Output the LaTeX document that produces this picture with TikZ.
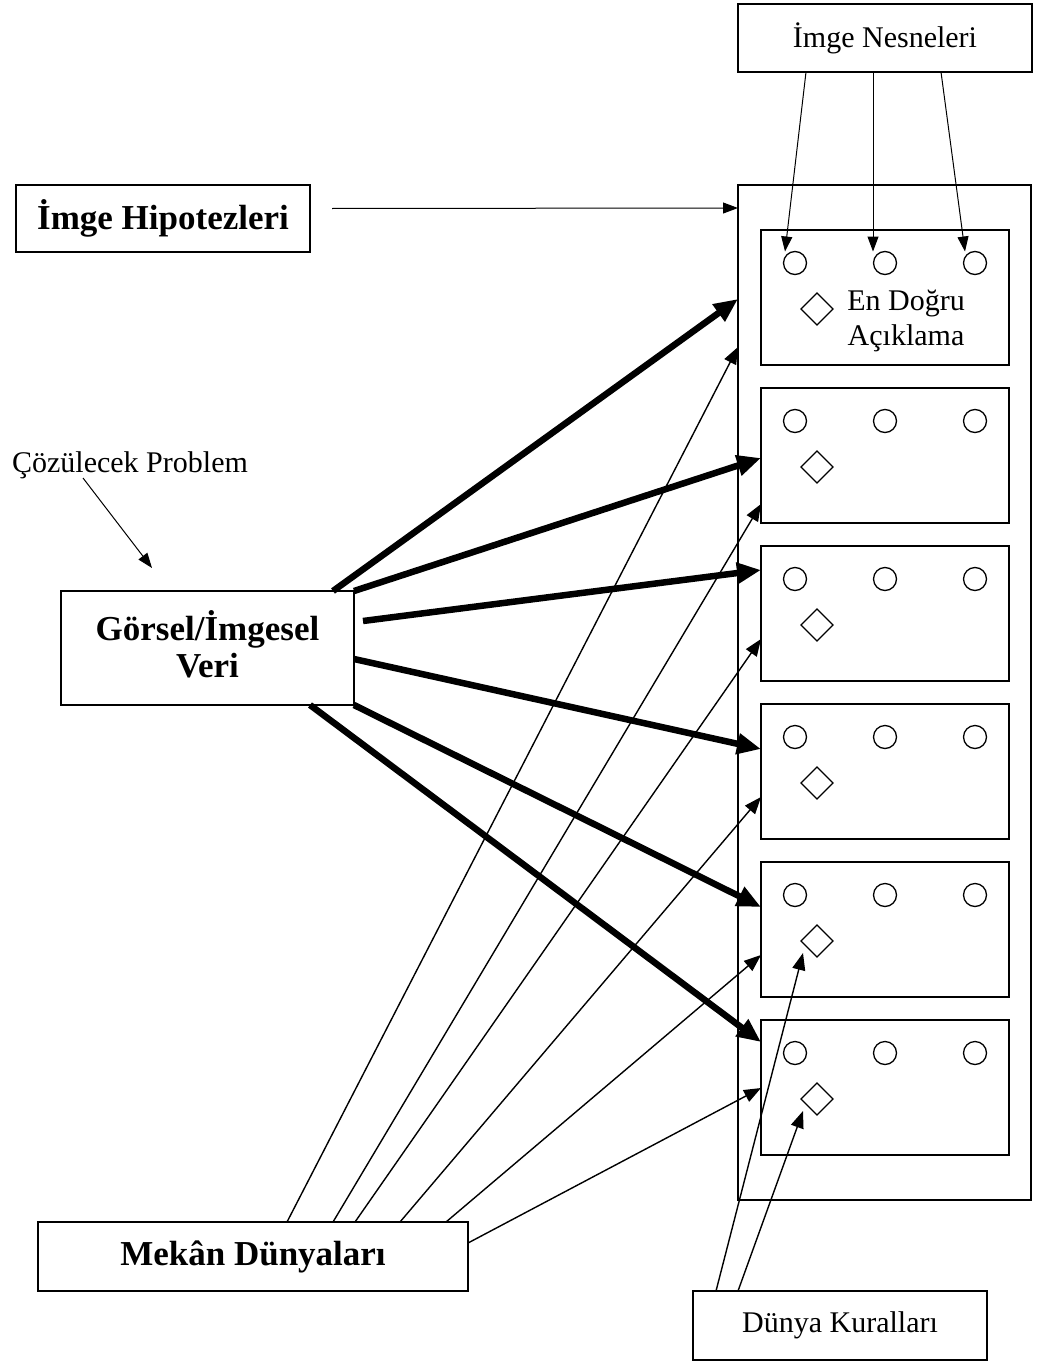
\documentclass[tikz,border=0pt]{standalone}
\usepackage{fontspec}
\setmainfont{Liberation Serif}
\usetikzlibrary{arrows.meta,shapes.geometric}
\begin{document}
\begin{tikzpicture}[x=1pt,y=-1pt,
  box/.style={draw,line width=1.5pt,rectangle,inner sep=0pt,outer sep=0pt,align=center},
  lbl/.style={font=\fontsize{30}{35}\selectfont},
  blbl/.style={font=\fontsize{35}{37}\selectfont\bfseries},
  dot/.style={draw,circle,line width=1.3pt,minimum size=23pt,inner sep=0pt,outer sep=0pt},
  gem/.style={draw,diamond,line width=1.3pt,minimum width=32pt,minimum height=32pt,inner sep=0pt,outer sep=0pt},
  heavy arrow/.style={line width=6.5pt,-{Triangle[length=24pt,width=20pt]}},
  light arrow/.style={line width=1pt,-{Triangle[length=15pt,width=11pt]}},
  link arrow/.style={line width=1.4pt,-{Triangle[length=17pt,width=13pt]}},
]
\useasboundingbox (0,0) rectangle (1036,1362);

% main boxes
\node[box,lbl,minimum width=294pt,minimum height=68pt] (nesne) at (885,38) {İmge Nesneleri};
\node[box,minimum width=293pt,minimum height=1015pt] (outer) at (884.5,692.5) {};
\node[box,blbl,minimum width=294pt,minimum height=67pt] (hyp) at (163,218.5) {İmge Hipotezleri};
\node[box,minimum width=293pt,minimum height=114pt] (gorsel) at (207.5,648) {};
\node[blbl,align=center] (gorseltext) at (207.5,644) {Görsel/İmgesel\\Veri};
\node[box,blbl,minimum width=430pt,minimum height=69pt] (mekan) at (253,1256.5) {Mekân Dünyaları};
\node[box,lbl,minimum width=294pt,minimum height=69pt] (dunya) at (840,1325.5) {Dünya Kuralları};
\node[lbl,anchor=base] (prob) at (130,472) {Çözülecek Problem};
\coordinate (probtip) at (152,568);

% hypothesis boxes with objects and a diamond
\foreach \i/\t in {1/230,2/388,3/546,4/704,5/862,6/1020} {
  \node[box,minimum width=248pt,minimum height=135pt] (h\i) at (885,{\t+67.5}) {};
  \node[dot] (ca\i) at (795,{\t+33}) {};
  \node[dot] (cb\i) at (885,{\t+33}) {};
  \node[dot] (cc\i) at (975,{\t+33}) {};
  \node[gem] (gem\i) at (817,{\t+79}) {};
}
\node[lbl,align=center] (best) at (906,321) {En Doğru\\Açıklama};

% image objects into the first hypothesis
\draw[light arrow] ([xshift=-79pt]nesne.south) -- ([xshift=-10pt]ca1.north);
\draw[light arrow] ([xshift=-12pt]nesne.south) -- ([xshift=-12pt]cb1.north);
\draw[light arrow] ([xshift=56pt]nesne.south) -- ([xshift=-10pt]cc1.north);

% hypotheses label
\draw[light arrow] ([xshift=22pt,yshift=10pt]hyp.east) -- ([yshift=-23pt]outer.north west);

% problem label
\draw[light arrow] ([xshift=-47pt,yshift=-6pt]prob.base) -- (probtip);

% visual data to hypotheses
\draw[heavy arrow] ([xshift=-21pt]gorsel.north east) -- ([yshift=-114pt]outer.north west);
\draw[heavy arrow] (gorsel.north east) -- ([yshift=-70pt]h2.north west);
\draw[heavy arrow] ([xshift=9pt,yshift=-30pt]gorsel.north east) -- ([yshift=-24pt]h3.north west);
\draw[heavy arrow] ([yshift=-68pt]gorsel.north east) -- ([yshift=-45pt]h4.north west);
\draw[heavy arrow] (gorsel.south east) -- ([yshift=-45pt]h5.north west);
\draw[heavy arrow] ([xshift=-44pt]gorsel.south east) -- ([yshift=-22pt]h6.north west);

% spatial worlds to hypotheses
\draw[link arrow] ([xshift=249pt]mekan.north west) -- ([yshift=-162pt]outer.north west);
\draw[link arrow] ([xshift=295pt]mekan.north west) -- ([yshift=-116pt]h2.north west);
\draw[link arrow] ([xshift=317pt]mekan.north west) -- ([yshift=-93pt]h3.north west);
\draw[link arrow] ([xshift=362pt]mekan.north west) -- ([yshift=-93pt]h4.north west);
\draw[link arrow] ([xshift=408pt]mekan.north west) -- ([yshift=-93pt]h5.north west);
\draw[link arrow] ([yshift=-21pt]mekan.north east) -- ([yshift=-68pt]h6.north west);

% world rules to diamonds
\draw[link arrow] ([xshift=23pt]dunya.north west) -- ([shift={(-6pt,-4pt)}]gem5.south west);
\draw[link arrow] ([xshift=45pt]dunya.north west) -- ([shift={(-6pt,-4pt)}]gem6.south west);
\end{tikzpicture}
\end{document}
